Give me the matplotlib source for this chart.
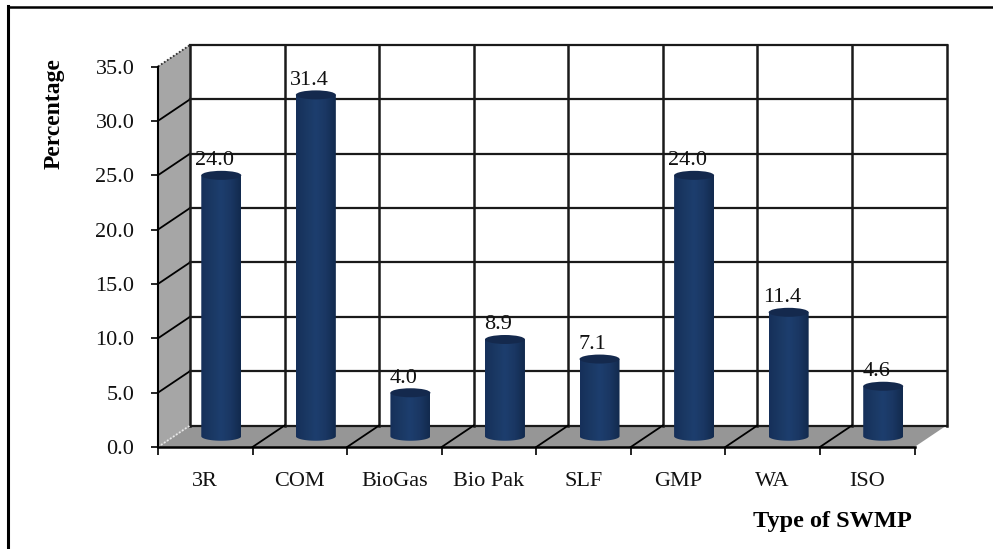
import numpy as np
import matplotlib
matplotlib.use('Agg')
import matplotlib.pyplot as plt
from matplotlib.colors import LinearSegmentedColormap
from matplotlib.lines import Line2D
from matplotlib.patches import Ellipse, PathPatch, Polygon
from matplotlib.path import Path

# datos
categories = ['3R', 'COM', 'BioGas', 'Bio Pak', 'SLF', 'GMP', 'WA', 'ISO']
values = [24.0, 31.4, 4.0, 8.9, 7.1, 24.0, 11.4, 4.6]
y_ticks = [0, 5, 10, 15, 20, 25, 30, 35]

W, H = 993, 549
plt.rcParams['font.family'] = ['Liberation Serif', 'DejaVu Serif']

fig = plt.figure(figsize=(W / 100, H / 100), dpi=100)
# plano frontal del grafico, en pixeles de la imagen
left, right, top, bottom = 158, 914.5, 66.5, 447
ax = fig.add_axes([left / W, 1 - bottom / H, (right - left) / W, (bottom - top) / H])
ax.patch.set_visible(False)

n = len(categories)
ymax = 35
# desplazamiento de la pared del fondo (falso 3D)
dx = 32 / ((right - left) / n)
dy = 21.5 / ((bottom - top) / ymax)
line_col = '#1a1a1a'

# pared lateral y suelo
ax.add_patch(Polygon([(0, 0), (dx, dy), (dx, ymax + dy), (0, ymax)], fc='#a6a6a6', ec='none', zorder=1, clip_on=False))
ax.add_patch(Polygon([(0, 0), (dx, dy), (n + dx, dy), (n, 0)], fc='#969696', ec='none', zorder=1, clip_on=False))

# cuadricula de la pared del fondo
for t in y_ticks:
    ax.plot([dx, n + dx], [t + dy, t + dy], color=line_col, lw=1.6, zorder=2, clip_on=False)
    if 0 < t < ymax:
        ax.plot([0, dx], [t, t + dy], color='black', lw=1.3, zorder=2, clip_on=False)
for i in range(n + 1):
    ax.plot([i + dx, i + dx], [dy, ymax + dy], color=line_col, lw=1.8, zorder=2, clip_on=False)
    if 0 < i < n:
        ax.plot([i, i + dx], [0, dy], color='black', lw=1.3, zorder=2, clip_on=False)

# aristas punteadas
ax.plot([0, dx], [ymax, ymax + dy], color='#333333', lw=1.3, ls=(0, (1, 1)), zorder=2, clip_on=False)
ax.plot([0, dx], [0, dy], color='#e8e8e8', lw=1.3, ls=(0, (1, 1)), zorder=2, clip_on=False)

# cilindros
cmap = LinearSegmentedColormap.from_list('cil', ['#16305a', '#1a3863', '#1d3e6e', '#1a3763', '#122a4e'])
gradient = np.linspace(0, 1, 64).reshape(1, -1)
bar_w = 40 / ((right - left) / n)
ell_h = 9 / ((bottom - top) / ymax)
ang = np.linspace(np.pi, 2 * np.pi, 40)
for i, v in enumerate(values):
    cx = i + 0.5 + dx / 2
    y0 = dy / 2
    y1 = v + dy / 2
    xs = cx + bar_w / 2 * np.cos(ang)
    ys = y0 + ell_h / 2 * np.sin(ang)
    verts = list(zip(xs, ys)) + [(cx + bar_w / 2, y1), (cx - bar_w / 2, y1), (cx - bar_w / 2, y0)]
    patch = PathPatch(Path(verts), fc='none', ec='none', zorder=3, clip_on=False)
    ax.add_patch(patch)
    im = ax.imshow(gradient, cmap=cmap, aspect='auto', zorder=3,
                   extent=(cx - bar_w / 2, cx + bar_w / 2, y0 - ell_h, y1))
    im.set_clip_path(patch)
    ax.add_patch(Ellipse((cx, y1), bar_w, ell_h, fc='#14294d', ec='none', zorder=4, clip_on=False))
    # etiqueta del valor
    ax.annotate(f'{v:.1f}', xy=(cx, y1), xytext=(-5, 10.5), textcoords='offset points',
                ha='center', va='center', fontsize=16, color='#111111', zorder=5)

ax.set_xlim(0, n)
ax.set_ylim(0, ymax)

# ejes
for s in ['top', 'right']:
    ax.spines[s].set_visible(False)
ax.spines['left'].set_linewidth(1.5)
ax.spines['bottom'].set_linewidth(1.8)
ax.set_yticks(y_ticks)
ax.set_yticklabels([f'{t:.1f}' for t in y_ticks], fontsize=16, color='#111111')
ax.tick_params(axis='y', length=5, width=1.2, pad=12)
ax.set_xticks(range(n + 1))
ax.set_xticklabels([])
ax.tick_params(axis='x', which='major', length=5.5, width=1.2)
ax.set_xticks(np.arange(n) + 0.5, minor=True)
ax.set_xticklabels(categories, minor=True, fontsize=16, color='#111111')
ax.tick_params(axis='x', which='minor', length=0, pad=18)

fig.text(54 / W, 1 - 114 / H, 'Percentage', rotation=90, ha='center', va='center',
         fontsize=17, fontweight='bold')
fig.text(832 / W, 1 - 521 / H, 'Type of SWMP', ha='center', va='center',
         fontsize=17.5, fontweight='bold')

# marco de la pagina
fig.add_artist(Line2D([8 / W, 1], [1 - 7 / H, 1 - 7 / H], color='black', lw=1.8))
fig.add_artist(Line2D([8 / W, 8 / W], [0, 1 - 6 / H], color='black', lw=2.2))

fig.savefig('out.png', dpi=100, facecolor='white')
